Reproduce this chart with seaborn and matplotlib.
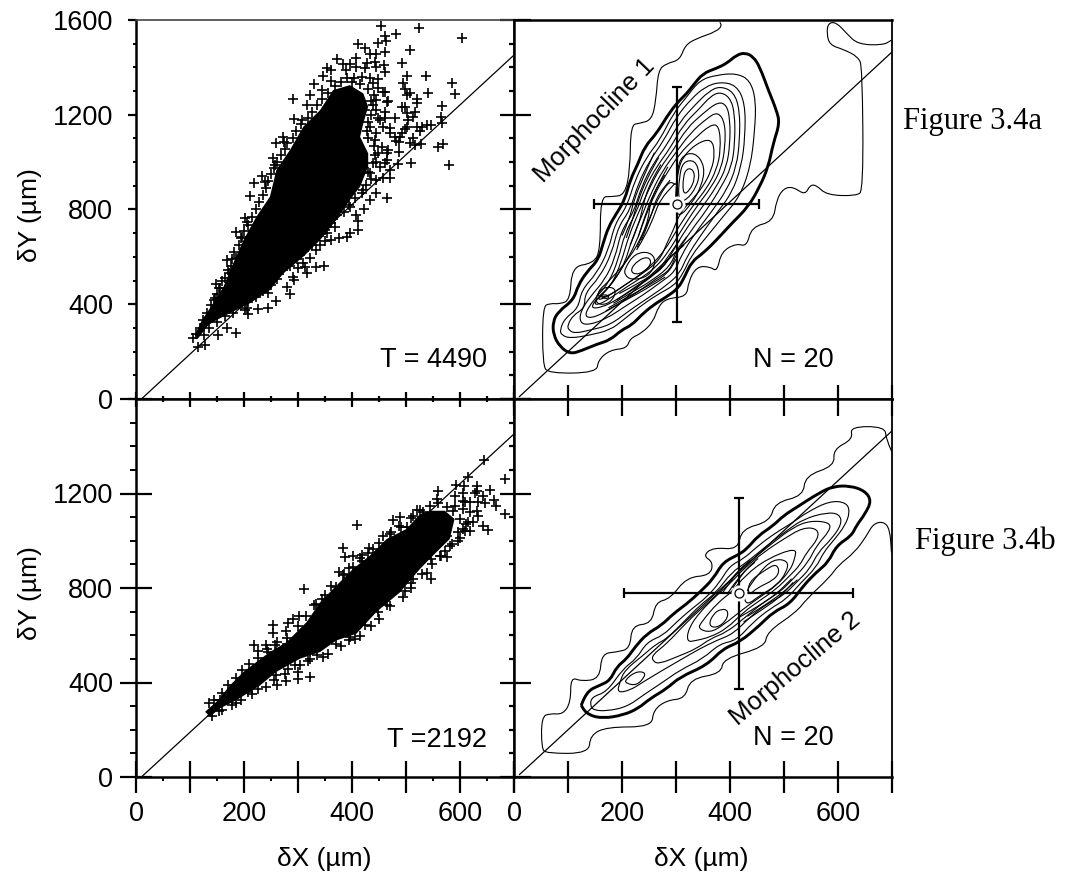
import numpy as np
import matplotlib
matplotlib.use('Agg')
import matplotlib.pyplot as plt
from matplotlib.patches import PathPatch
from matplotlib.path import Path
import seaborn as sns

# all values, in um
# the crosses in the black middle of each cloud cannot be told apart,
# so that part is an outline of the solid area, the crosses around it are read one by one
core_a = [(115,256),(134,312),(149,333),(186,376),(211,404),(248,460),(273,530),(310,601),(341,671),(371,756),
          (396,840),(415,896),(430,981),(430,1037),(415,1107),(421,1164),(430,1234),(421,1290),(396,1325),(365,1304),
          (341,1220),(310,1150),(285,1051),(260,967),(248,854),(223,770),(199,671),(180,573),(162,474),(143,404),
          (122,333),(109,270)]
points_a = [(453,1576),(524,1566),(603,1524),(462,1534),(463,1513),(482,1542),(449,1504),(412,1497),(424,1483),(507,1475),
            (462,1466),(434,1455),(444,1455),(373,1435),(407,1438),(493,1417),(459,1410),(442,1424),(428,1417),(396,1414),
            (384,1413),(353,1396),(362,1389),(389,1389),(408,1403),(424,1396),(444,1400),(462,1379),(537,1362),(502,1362),
            (495,1335),(586,1335),(346,1363),(362,1344),(390,1354),(403,1354),(418,1361),(433,1354),(449,1349),(329,1330),
            (344,1304),(498,1307),(508,1293),(540,1293),(590,1287),(501,1283),(461,1297),(322,1283),(291,1266),(316,1241),
            (520,1265),(521,1248),(467,1259),(498,1234),(492,1231),(567,1237),(501,1206),(516,1213),(461,1213),(513,1192),
            (504,1178),(292,1182),(308,1178),(479,1185),(461,1185),(449,1185),(564,1189),(566,1164),(547,1157),(538,1157),
            (529,1150),(520,1150),(501,1150),(498,1138),(470,1143),(492,1121),(489,1107),(479,1107),(470,1124),(482,1090),
            (526,1133),(513,1100),(507,1079),(516,1072),(527,1076),(560,1065),(569,1075),(487,1086),(487,1044),(580,988),
            (510,995),(486,992),(467,1051),(461,995),(470,967),(273,1107),(260,1082),(274,1086),(254,1019),(257,988),
            (233,943),(219,910),(212,857),(239,917),(202,763),(205,749),(185,703),(196,685),(168,587),(186,594),
            (170,544),(165,509),(148,485),(154,467),(146,425),(464,848),(445,868),(433,840),(423,802),(408,777),
            (412,753),(412,713),(396,702),(390,685),(376,678),(362,671),(350,667),(341,650),(334,629),(322,594),
            (348,563),(333,556),(313,556),(317,530),(291,516),(292,502),(285,442),(260,414),(245,386),(226,380),
            (206,386),(208,359),(202,376),(185,277),(151,270),(128,228),(115,221),(106,256),(168,298),(279,474),
            (245,446),(300,552),(310,573),(470,931),(458,931),(445,924),(421,882),(396,812),(368,727),(353,699),
            (439,1332),(449,1311),(458,1297),(464,1255),(445,1220),(452,1178),(458,1150),(445,1121),(455,1065),(464,1037),
            (449,1037),(439,995),(452,981),(464,1009),(433,953),(442,1093),(433,1150),(424,1220),(445,1262)]
# crosses along the rim of the solid area
rim_a = [(112,275),(118,300),(124,335),(132,365),(138,395),(145,420),(150,445),(156,470),(160,500),(172,530),
         (176,560),(178,590),(182,620),(190,650),(195,680),(200,710),(208,735),(215,770),(222,800),(228,830),
         (236,860),(240,890),(244,920),(250,950),(255,975),(262,1000),(268,1030),(276,1055),(280,1080),(290,1100),
         (296,1130),(306,1160),(318,1185),(326,1210),(335,1240),(345,1265),(355,1290),(368,1320),(380,1340),(400,1340),
         (415,1330),(430,1310),(440,1285),(435,1260),(438,1240),(436,1200),(430,1170),(428,1130),(430,1100),(440,1070),
         (443,1030),(444,1000),(430,960),(436,930),(425,905),(418,870),(405,850),(395,820),(385,790),(372,775),
         (362,745),(350,715),(338,690),(325,650),(312,625),(298,590),(285,560),(272,545),(262,505),(250,480),
         (235,455),(222,430),(208,410),(195,395),(180,365),(165,350),(150,325),(135,300),(125,270)]

core_b = [(128,276),(137,255),(155,290),(186,325),(230,388),(260,445),(304,501),(341,529),(371,578),(408,606),
          (445,698),(489,782),(526,881),(556,951),(581,1007),(590,1092),(572,1127),(544,1127),(526,1113),(501,1050),
          (464,1007),(433,937),(402,881),(371,810),(341,740),(316,656),(279,571),(248,529),(223,487),(199,445),
          (174,388),(152,325)]
points_b = [(683,1261),(644,1342),(615,1269),(592,1237),(608,1230),(632,1233),(655,1214),(632,1211),(560,1209),(627,1204),
            (606,1204),(590,1190),(643,1190),(558,1176),(606,1169),(618,1165),(634,1162),(646,1159),(663,1172),(666,1145),
            (631,1127),(683,1113),(634,1106),(624,1081),(643,1061),(652,1047),(618,1043),(597,1036),(597,1000),(575,1022),
            (572,958),(575,930),(563,937),(547,839),(538,864),(513,839),(510,822),(498,789),(410,1068),(384,971),
            (387,930),(402,934),(418,940),(432,968),(489,1099),(476,1088),(487,1064),(376,867),(311,794),(254,642),
            (254,611),(278,620),(291,670),(302,680),(281,653),(218,557),(225,533),(241,560),(257,557),(245,529),
            (322,424),(300,416),(300,445),(277,405),(262,391),(226,371),(186,315),(154,279),(135,315),(155,325),
            (449,698),(464,726),(424,642),(396,592),(405,585),(371,564),(347,508),(322,501),(304,473),(282,459),
            (260,431),(208,360),(279,564),(260,529),(507,923),(532,1120),(520,1131),(513,1106),(501,1057),(473,1036),
            (458,1022),(439,965),(418,916),(402,888),(384,853),(371,803),(344,754),(334,733),(547,923),(581,979),
            (606,1050),(612,1071),(600,1092),(618,1120),(606,1134),(587,1127),(575,1141),(609,1162),(590,1148)]
rim_b = [(145,325),(160,355),(170,390),(185,420),(197,455),(210,480),(225,505),(243,540),(262,570),(280,590),
         (300,640),(315,680),(330,730),(350,770),(362,810),(385,860),(395,885),(415,925),(430,950),(450,990),
         (470,1030),(490,1060),(510,1095),(525,1130),(545,1145),(560,1160),(140,260),(160,285),(178,305),(195,325),
         (215,350),(240,380),(255,410),(275,435),(295,475),(318,490),(335,515),(355,520),(380,555),(395,580),
         (415,595),(435,640),(450,670),(470,725),(495,760),(510,800),(530,860),(548,900),(565,935),(585,985),
         (600,1010),(610,1040),(615,1080)]

# density contours, morphocline 1
thick_a = [(104,190),(125,204),(153,231),(178,249),(199,291),(218,312),(236,355),(258,397),(283,432),(304,467),
           (316,516),(329,580),(350,615),(375,671),(403,741),(434,812),(455,896),(471,981),(480,1079),(492,1164),
           (486,1220),(471,1304),(455,1403),(443,1445),(428,1462),(412,1452),(394,1417),(375,1396),(350,1375),(332,1325),
           (320,1290),(301,1248),(283,1192),(264,1121),(242,1065),(230,995),(215,924),(205,840),(190,784),(175,727),
           (165,657),(156,587),(135,537),(119,481),(110,418),(82,369),(72,326),(73,270),(85,221)]
outer_a = [(381,1590),(386,1579),(375,1551),(338,1522),(317,1494),(307,1431),(283,1417),(267,1389),(263,1262),(255,1178),
           (233,1164),(216,1157),(215,967),(205,861),(181,854),(160,854),(160,629),(147,573),(107,559),(104,418),
           (85,401),(67,404),(53,390),(53,144),(64,108),(153,111),(156,165),(178,207),(209,214),(215,256),
           (236,277),(258,326),(267,390),(283,425),(320,432),(323,495),(338,559),(363,559),(376,537),(384,622),
           (412,657),(431,643),(440,727),(480,749),(486,840),(499,889),(517,896),(539,861),(548,903),(560,903),
           (579,861),(634,857),(647,882),(645,1403),(637,1445),(610,1476),(585,1494),(579,1543),(582,1588),(597,1590),
           (616,1543),(637,1497),(684,1494),(699,1515)]
rings_a = [
    [(85,291),(94,340),(119,383),(125,460),(153,530),(175,629),(187,741),(209,812),(224,924),(246,1023),(270,1093),
     (295,1206),(320,1276),(344,1346),(375,1368),(412,1375),(437,1346),(448,1262),(446,1135),(438,981),(418,854),
     (387,770),(357,685),(329,608),(313,530),(298,481),(264,439),(233,390),(202,333),(178,291),(141,270),(104,256),(88,270)],
    [(99,312),(110,355),(131,383),(131,446),(159,516),(181,615),(193,727),(215,798),(230,910),(252,1009),(276,1086),
     (301,1192),(329,1269),(354,1318),(381,1339),(412,1325),(428,1248),(428,1107),(421,981),(403,868),(375,784),
     (344,685),(320,601),(307,530),(283,481),(252,432),(215,376),(178,312),(141,291),(113,277),(101,291)],
    [(122,322),(123,369),(141,432),(168,502),(187,594),(199,713),(221,784),(236,896),(258,995),(283,1072),(307,1171),
     (338,1248),(360,1297),(381,1321),(407,1297),(418,1220),(418,1093),(412,981),(394,882),(366,791),(335,699),
     (310,608),(298,537),(273,495),(239,439),(205,390),(172,340),(138,312)],
    [(130,355),(147,418),(175,488),(193,587),(205,699),(226,784),(242,889),(264,981),(289,1058),(313,1157),(344,1227),
     (363,1276),(381,1297),(400,1273),(409,1206),(409,1079),(403,981),(384,896),(357,798),(326,706),(301,615),
     (289,544),(264,509),(230,453),(196,404),(165,362),(141,340)],
    [(141,383),(156,432),(181,481),(199,580),(212,685),(230,784),(249,882),(270,974),(295,1051),(320,1143),(350,1206),
     (378,1255),(394,1241),(400,1178),(400,1079),(394,981),(375,896),(347,805),(317,713),(292,615),(276,552),
     (252,516),(221,467),(190,418),(162,386)],
    [(147,404),(168,453),(190,516),(205,573),(218,671),(236,770),(255,875),(276,967),(301,1044),(326,1121),(357,1185),
     (378,1213),(391,1164),(391,1065),(384,974),(366,896),(338,812),(310,713),(286,622),(264,559),(239,516),
     (209,474),(178,425),(156,397)],
    [(152,418),(178,474),(202,559),(226,657),(242,763),(261,868),(283,953),(307,1037),(335,1100),(363,1157),(380,1157),
     (383,1051),(375,967),(357,889),(332,819),(301,713),(280,629),(252,559),(224,509),(196,467),(168,425)],
    [(301,896),(304,967),(313,1023),(338,1079),(366,1100),(372,1037),(366,967),(350,896),(329,840),(307,784),(295,713),
     (283,657),(270,587),(239,530),(209,488),(184,446),(159,425),(154,453),(178,502),(216,601),(236,685),(255,784),
     (270,861),(289,924)],
    [(313,938),(320,974),(332,969),(335,931),(326,882),(313,861)],
    [(306,938),(313,1002),(335,1009),(344,952),(338,896),(320,840),(304,833)],
    [(301,924),(307,1023),(335,1044),(354,981),(347,896),(329,826),(307,770),(298,798)],
    [(215,545),(230,587),(249,601),(255,573),(242,538),(224,524)],
    [(205,552),(224,615),(252,622),(264,580),(249,516),(218,502),(205,523)],
    [(160,435),(168,442),(178,432),(170,421)],
    [(150,425),(162,467),(181,474),(190,453),(178,404),(156,397)],
]
open_a = [
    [(236,671),(252,756),(264,854),(289,924)],
    [(230,685),(242,770),(258,868),(279,945)],
    [(227,629),(242,685),(258,763),(270,840),(298,910)],
    [(184,404),(215,446),(252,495),(289,559),(301,629),(320,685)],
    [(190,418),(224,467),(264,530),(283,594),(307,671)],
    [(200,690),(214,760),(222,840),(240,940),(260,1040)],
    [(208,680),(220,760),(230,840),(246,930),(268,1020)],
    [(215,650),(232,740),(240,830),(252,910),(272,990)],
    [(228,640),(248,740),(252,830),(268,910),(285,980)],
    [(175,385),(210,430),(250,480),(285,530),(300,590)],
    [(170,372),(205,415),(245,465),(280,515)],
    [(195,445),(232,490),(270,545),(290,600),(315,650)],
]

# density contours, morphocline 2
thick_b = [(125,311),(138,367),(159,388),(178,409),(190,466),(209,501),(224,550),(246,606),(273,642),(295,691),
           (320,733),(344,782),(369,839),(387,909),(415,940),(431,965),(452,1021),(480,1064),(499,1106),(523,1141),
           (566,1204),(591,1230),(622,1233),(650,1211),(662,1169),(650,1113),(634,1064),(625,1021),(597,979),(582,909),
           (560,867),(536,810),(511,733),(480,698),(455,642),(418,571),(387,543),(357,473),(307,423),(283,374),
           (252,332),(230,290),(202,262),(165,248),(138,262),(125,297)]
outer_b = [(699,1380),(689,1430),(687,1483),(622,1483),(628,1430),(591,1387),(594,1317),(539,1275),(536,1190),(483,1162),
           (474,1081),(421,1050),(415,962),(369,972),(350,937),(369,909),(363,853),(320,846),(289,754),(262,740),
           (255,649),(218,642),(215,543),(190,529),(162,522),(159,416),(125,405),(105,423),(105,318),(91,265),
           (67,269),(51,255),(51,121),(60,100),(139,100),(141,177),(172,212),(255,212),(258,283),(283,325),
           (317,332),(326,416),(384,438),(387,501),(465,550),(468,613),(523,698),(542,754),(585,846),(600,895),
           (631,951),(653,1021),(665,1071),(684,1082),(696,1050),(699,951)]
rings_b = [
    [(141,304),(144,339),(172,360),(202,459),(227,501),(246,571),(276,599),(301,656),(329,712),(357,761),(381,825),
     (400,895),(425,923),(452,979),(486,1036),(517,1078),(542,1120),(585,1169),(616,1162),(622,1120),(613,1064),
     (594,1007),(573,951),(560,888),(529,817),(505,754),(474,712),(443,656),(412,578),(381,564),(350,501),(307,452),
     (276,402),(239,346),(209,297),(172,279),(147,283)],
    [(191,356),(196,402),(205,452),(239,515),(264,564),(283,585),(320,670),(344,726),(375,782),(403,867),(431,909),
     (468,979),(505,1043),(536,1092),(579,1120),(603,1113),(607,1071),(588,1007),(563,951),(548,881),(523,824),
     (499,768),(468,733),(437,677),(406,606),(375,578),(344,543),(307,494),(270,445),(239,402),(215,367)],
    [(258,487),(255,515),(283,564),(320,656),(357,733),(387,796),(418,881),(443,923),(480,993),(517,1057),(548,1085),
     (585,1078),(585,1043),(560,979),(545,909),(517,839),(492,782),(462,740),(425,670),(394,613),(363,585),(338,543),
     (301,508),(270,480)],
    [(320,571),(323,628),(344,698),(375,768),(403,825),(425,881),(462,951),(499,1007),(536,1057),(563,1050),(563,1007),
     (542,951),(529,895),(511,853),(486,796),(455,747),(425,698),(394,628),(363,592),(338,578)],
    [(341,628),(347,656),(378,740),(403,782),(428,853),(468,923),(523,972),(520,923),(511,874),(486,810),(455,761),
     (425,712),(387,642),(363,611)],
    [(360,642),(369,691),(384,712),(397,705),(394,663),(375,630)],
    [(425,768),(452,860),(480,923),(508,916),(505,867),(486,810),(455,768),(431,726)],
    [(434,768),(434,825),(468,881),(486,902),(492,867),(480,832),(452,803)],
    [(205,409),(224,445),(242,445),(242,423),(227,388),(209,395)],
]
open_b = [
    [(425,656),(462,712),(492,761),(517,824)],
    [(418,677),(455,726),(486,775),(514,839)],
    [(387,782),(412,867),(437,916)],
    [(397,782),(418,853),(446,909)],
    [(432,680),(470,735),(500,785),(525,835)],
    [(405,800),(425,870),(452,925)],
]

# diagonal reference lines
diag_x = [10, 700]
diag_y_left = [0, 1452]
diag_y_right = [10, 1465]

# mean +/- spread of both morphoclines
mean_a = (301, 822)
spread_a = (153, 495)
mean_b = (416, 777)
spread_b = (212, 406)

x_major = [0, 100, 200, 300, 400, 500, 600, 700]
x_labels = ['0', '', '200', '', '400', '', '600', '']
x_minor = [50, 150, 250, 350, 450, 550, 650]
y_major = [0, 400, 800, 1200, 1600]
y_labels = ['0', '400', '800', '1200', '1600']
y_labels_low = ['0', '400', '800', '1200', '']
y_minor = [100, 200, 300, 500, 600, 700, 900, 1000, 1100, 1300, 1400, 1500]

sns.set_style('ticks')
plt.rcParams['font.family'] = ['Liberation Sans', 'DejaVu Sans']
plt.rcParams['text.color'] = 'black'
plt.rcParams['xtick.color'] = 'black'
plt.rcParams['ytick.color'] = 'black'

W, H = 1066, 873
fig = plt.figure(figsize=(W / 100, H / 100), dpi=100)


def make_axes(left, top, right, bottom):
    return fig.add_axes([left / W, 1 - bottom / H, (right - left) / W, (bottom - top) / H])


ax_tl = make_axes(136, 20, 514, 399)
ax_tr = make_axes(514, 20, 892, 399)
ax_bl = make_axes(136, 399, 514, 777)
ax_br = make_axes(514, 399, 892, 777)


def side_ticks(ax, side, values, length):
    # ticks that point into the panel from one side, length in pixels
    frac = length / 378
    if side in ('top', 'bottom'):
        a, b = (1, 1 - frac) if side == 'top' else (0, frac)
        ax.vlines(values, a, b, color='k', lw=1.6, transform=ax.get_xaxis_transform(), clip_on=False)
    else:
        a, b = (1, 1 - frac) if side == 'right' else (0, frac)
        ax.hlines(values, a, b, color='k', lw=1.6, transform=ax.get_yaxis_transform(), clip_on=False)


def contour(ax, pts, lw, close=True):
    # rounded line through the read points, the originals are smooth curves
    arr = np.array(pts, dtype=float)
    if close:
        mids = (arr + np.roll(arr, -1, axis=0)) / 2
        verts = [mids[-1]]
        codes = [Path.MOVETO]
        for p, m in zip(arr, mids):
            verts += [p, m]
            codes += [Path.CURVE3, Path.CURVE3]
    else:
        mids = (arr[:-1] + arr[1:]) / 2
        verts = [arr[0]]
        codes = [Path.MOVETO]
        for p, m in zip(arr[1:-1], mids[1:]):
            verts += [p, m]
            codes += [Path.CURVE3, Path.CURVE3]
        verts.append(arr[-1])
        codes.append(Path.LINETO)
    ax.add_patch(PathPatch(Path(verts, codes), fc='none', ec='k', lw=lw))


def cloud(ax, core, points, rim):
    core = np.array(core)
    pts = np.array(points + rim)
    ax.fill(core[:, 0], core[:, 1], color='k', lw=0)
    sns.scatterplot(x=pts[:, 0], y=pts[:, 1], marker='+', s=45, color='k', linewidth=1.2, ax=ax, legend=False)


def cross(ax, mean, spread):
    ax.errorbar(mean[0], mean[1], xerr=spread[0], yerr=spread[1], color='k', elinewidth=1.6, capsize=3.5, capthick=1.6)
    ax.plot(mean[0], mean[1], 'o', ms=9, mfc='white', mec='white', mew=2.5)
    ax.plot(mean[0], mean[1], 'o', ms=6.5, mfc='white', mec='k', mew=0.9)


for ax in (ax_tl, ax_tr, ax_bl, ax_br):
    ax.set_xlim(0, 700)
    ax.set_ylim(0, 1600)
    ax.set_xticks([])
    ax.set_yticks([])
    for s in ax.spines.values():
        s.set_linewidth(1.8)
        s.set_color('k')

cloud(ax_tl, core_a, points_a, rim_a)
cloud(ax_bl, core_b, points_b, rim_b)
for ax, dy in ((ax_tl, diag_y_left), (ax_bl, diag_y_left), (ax_tr, diag_y_right), (ax_br, diag_y_right)):
    sns.lineplot(x=diag_x, y=dy, color='k', lw=0.9, ax=ax, legend=False)

contour(ax_tr, outer_a, 0.8, close=False)
contour(ax_tr, thick_a, 2.1)
for r in rings_a:
    contour(ax_tr, r, 0.8)
for r in open_a:
    contour(ax_tr, r, 0.8, close=False)
cross(ax_tr, mean_a, spread_a)

contour(ax_br, outer_b, 0.8, close=False)
contour(ax_br, thick_b, 2.1)
for r in rings_b:
    contour(ax_br, r, 0.8)
for r in open_b:
    contour(ax_br, r, 0.8, close=False)
cross(ax_br, mean_b, spread_b)

# labelled sides use real ticks
ax_tl.set_yticks(y_major, y_labels)
ax_tl.set_yticks(y_minor, minor=True)
ax_tl.tick_params(axis='y', which='major', direction='out', length=5.8, width=1.6, labelsize=19.5, pad=10.5)
ax_tl.tick_params(axis='y', which='minor', direction='out', length=2.4, width=1.4, left=True)
ax_bl.set_yticks(y_major, y_labels_low)
ax_bl.set_yticks(y_minor, minor=True)
ax_bl.tick_params(axis='y', which='major', direction='inout', length=23, width=1.6, labelsize=19.5, pad=5)
ax_bl.tick_params(axis='y', which='minor', direction='out', length=4.5, width=1.4, left=True)
ax_bl.set_xticks(x_minor, minor=True)
ax_bl.tick_params(axis='x', which='minor', direction='out', length=3.2, width=1.4, bottom=True)
for ax in (ax_bl, ax_br):
    ax.set_xticks(x_major, x_labels)
    ax.tick_params(axis='x', which='major', direction='inout', length=23, width=1.6, labelsize=19.5, pad=6)

# the short inner ticks of every panel
side_ticks(ax_tl, 'right', y_major, 14)
side_ticks(ax_tl, 'right', y_minor, 5)
side_ticks(ax_tl, 'bottom', x_major, 7)
side_ticks(ax_tl, 'bottom', x_minor, 3)
side_ticks(ax_bl, 'right', y_major, 14)
side_ticks(ax_bl, 'right', y_minor, 5)
side_ticks(ax_bl, 'top', x_major, 8)
side_ticks(ax_bl, 'top', x_minor, 3)
side_ticks(ax_tr, 'left', y_major, 17)
side_ticks(ax_tr, 'bottom', x_major, 14)
side_ticks(ax_br, 'left', y_major, 17)
side_ticks(ax_br, 'top', x_major, 17)

ax_tl.spines['top'].set_color('#444444')
ax_tl.spines['top'].set_linewidth(1.2)
ax_tr.spines['right'].set_linewidth(1.3)
ax_br.spines['right'].set_linewidth(1.3)

ax_tl.text(650, 165, 'T = 4490', ha='right', va='center', fontsize=19.5)
ax_bl.text(650, 156, 'T =2192', ha='right', va='center', fontsize=19.5)
ax_tr.text(591, 165, 'N = 20', ha='right', va='center', fontsize=19.5)
ax_br.text(591, 165, 'N = 20', ha='right', va='center', fontsize=19.5)
ax_tr.text(150, 1175, 'Morphocline 1', rotation=46, ha='center', va='center', rotation_mode='anchor', fontsize=18.5)
ax_br.text(520, 460, 'Morphocline 2', rotation=40, ha='center', va='center', rotation_mode='anchor', fontsize=18.5)

for px, py, txt, rot in ((30, 215, '\u03b4Y (\u00b5m)', 90), (30, 593, '\u03b4Y (\u00b5m)', 90),
                         (324, 859, '\u03b4X (\u00b5m)', 0), (701, 859, '\u03b4X (\u00b5m)', 0)):
    fig.text(px / W, 1 - py / H, txt, rotation=rot, ha='center', va='center', fontsize=19)

fig.text(903 / W, 1 - 121 / H, 'Figure 3.4a', family='Liberation Serif', va='center', fontsize=22)
fig.text(915 / W, 1 - 541 / H, 'Figure 3.4b', family='Liberation Serif', va='center', fontsize=22)

fig.savefig('out.png', dpi=100, facecolor='white')
